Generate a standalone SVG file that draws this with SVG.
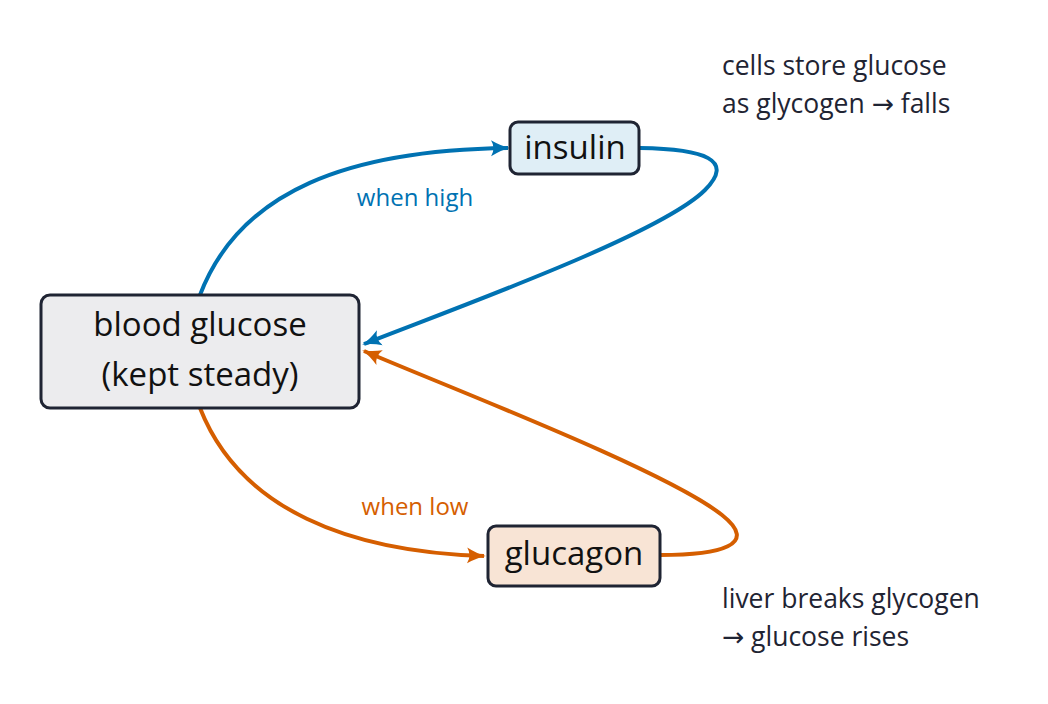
<svg xmlns="http://www.w3.org/2000/svg" width="1048" height="704" viewBox="0 0 1048 704">
<style>
text{font-family:"Open Sans","DejaVu Sans",sans-serif}
.n{stroke:#1f2433;stroke-width:3}
.t{font-size:33px;fill:#111;text-anchor:middle}
.s{font-size:26.5px;fill:#1f2433}
.b{fill:none;stroke:#0072b2;stroke-width:4}
.o{fill:none;stroke:#d55e00;stroke-width:4}
</style>
<defs>
<marker id="ab" markerWidth="20" markerHeight="18" refX="17" refY="9" orient="auto" markerUnits="userSpaceOnUse" viewBox="0 0 20 18"><path d="M0,1 Q10,7 19,9 Q10,11 0,17 Q5,9 0,1z" fill="#0072b2"/></marker>
<marker id="ao" markerWidth="20" markerHeight="18" refX="17" refY="9" orient="auto" markerUnits="userSpaceOnUse" viewBox="0 0 20 18"><path d="M0,1 Q10,7 19,9 Q10,11 0,17 Q5,9 0,1z" fill="#d55e00"/></marker>
</defs>
<rect width="1048" height="704" fill="#fff"/>
<g id="connectors">
<path class="b" d="M200,295 C240,190 350,150 508,148" marker-end="url(#ab)"/>
<path class="b" d="M640,148 C705,149 735,160 705,190 C660,235 450,310 364,344" marker-end="url(#ab)"/>
<path class="o" d="M200,408 C240,510 350,552 484,556" marker-end="url(#ao)"/>
<path class="o" d="M660,555 C720,555 760,545 722,515 C665,470 450,388 364,351" marker-end="url(#ao)"/>
<text x="415" y="206" style="font-size:24px;fill:#0072b2;text-anchor:middle">when high</text>
<text x="415" y="515" style="font-size:24px;fill:#d55e00;text-anchor:middle">when low</text>
</g>
<g id="blood"><rect class="n" x="41" y="295" width="318" height="113" rx="9" fill="#ececee"/>
<text class="t" x="200" y="336">blood glucose</text><text class="t" x="200" y="386">(kept steady)</text></g>
<g id="insulin"><rect class="n" x="510" y="122" width="129" height="52" rx="8" fill="#dfeef6"/>
<text class="t" x="575" y="159">insulin</text></g>
<g id="glucagon"><rect class="n" x="488" y="526" width="172" height="60" rx="8" fill="#f8e4d5"/>
<text class="t" x="574" y="565">glucagon</text></g>
<g id="notes">
<text class="s" x="722" y="75">cells store glucose</text>
<text class="s" x="722" y="113">as glycogen → falls</text>
<text class="s" x="722" y="608">liver breaks glycogen</text>
<text class="s" x="722" y="646">→ glucose rises</text>
</g>
</svg>
